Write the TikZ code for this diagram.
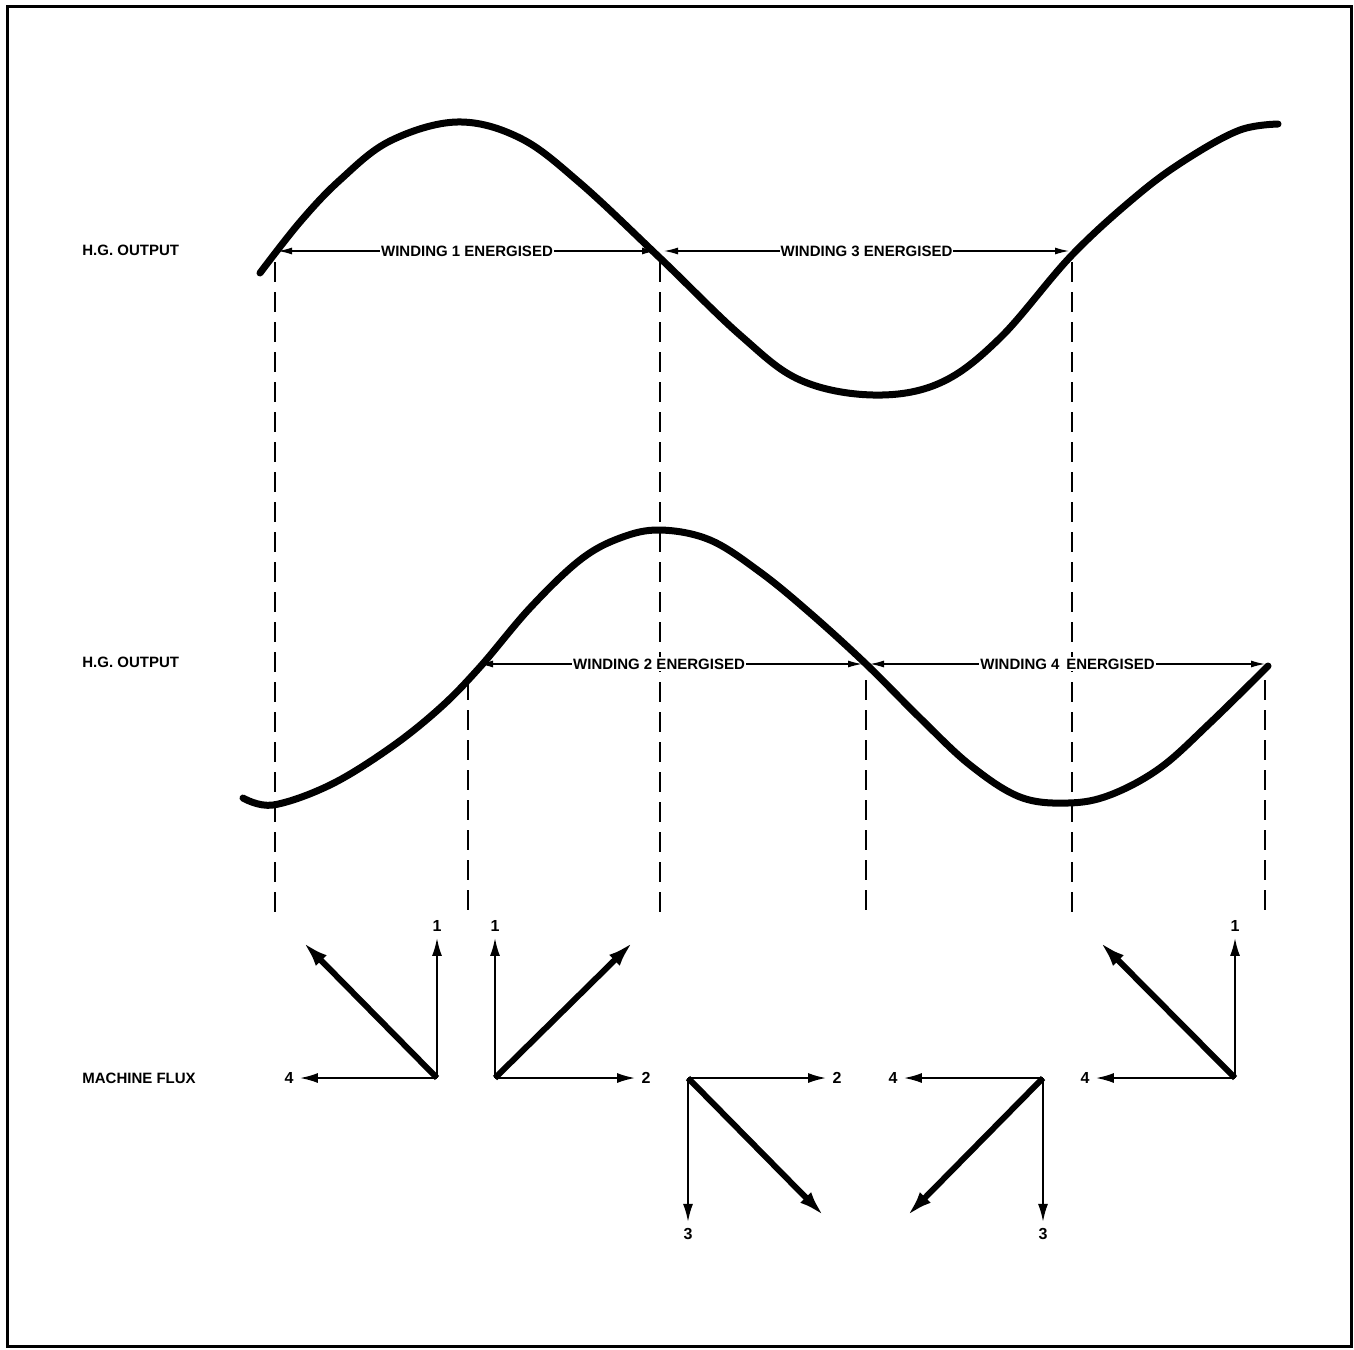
\documentclass[tikz,border=0pt]{standalone}
\usepackage{fontspec}
\setmainfont{Liberation Sans}
\usetikzlibrary{arrows.meta}

\begin{document}
\begin{tikzpicture}[x=0.5pt,y=-0.5pt,
  wave/.style={line width=3.5pt,line cap=round,line join=round},
  guide/.style={line width=1pt,dash pattern=on 10pt off 5pt},
  span/.style={{Latex[length=7pt,width=3.5pt]}-{Latex[length=7pt,width=3.5pt]},line width=0.6pt},
  tag/.style={fill=white,inner xsep=0.5pt,inner ysep=1pt,font=\fontsize{7.5}{9}\selectfont\bfseries},
  lbl/.style={font=\fontsize{7.5}{9}\selectfont\bfseries,anchor=west,inner sep=0pt},
  num/.style={font=\fontsize{8}{9}\selectfont\bfseries,inner sep=3pt},
  comp/.style={-{Latex[length=9pt,width=5pt]},line width=1pt},
  flux/.style={-{Latex[length=13pt,width=7.5pt]},line width=3pt}]
\useasboundingbox (0,0) rectangle (1354,1349);
\draw[line width=1.5pt] (7,6) rectangle (1351,1346);

\node[lbl] (hgA)  at (82,250)  {H.G. OUTPUT};
\node[lbl] (hgB)  at (82,662)  {H.G. OUTPUT};
\node[lbl] (flx)  at (82,1078) {MACHINE FLUX};

\draw[wave] plot[smooth,tension=0.6] coordinates {(260,273) (300,222) (340,180) (390,141) (457,122) (520,138) (580,183) (660,258) (740,335) (800,380) (873,395) (940,383) (1000,338) (1072,255) (1140,193) (1190,157) (1240,130) (1278,124)};
\draw[wave] plot[smooth,tension=0.6] coordinates {(243,798) (273,805) (330,785) (390,748) (440,708) (480,667) (530,608) (580,560) (620,538) (660,530) (710,540) (760,572) (810,613) (866,664) (920,718) (970,765) (1020,797) (1068,803) (1110,795) (1160,768) (1210,723) (1268,666)};

\foreach \x in {275,660,1072}
  \draw[guide] (\x,262) -- (\x,915);
\foreach \x in {468,866,1265}
  \draw[guide] (\x,680) -- (\x,915);

\coordinate (w1a) at (278,251);
\coordinate (w1b) at (656,251);
\coordinate (w3a) at (664,251);
\coordinate (w3b) at (1069,251);
\coordinate (w2a) at (479,664);
\coordinate (w2b) at (862,664);
\coordinate (w4a) at (870,664);
\coordinate (w4b) at (1265,664);
\draw[span] (w1a) -- node[tag] (t1) {WINDING 1 ENERGISED} (w1b);
\draw[span] (w3a) -- node[tag] (t3) {WINDING 3 ENERGISED} (w3b);
\draw[span] (w2a) -- node[tag,pos=0.47] (t2) {WINDING 2 ENERGISED} (w2b);
\draw[span] (w4a) -- node[tag] (t4) {WINDING 4\, ENERGISED} (w4b);

\coordinate (oA) at (437,1078);
\node[num] (a1) at (437,926)  {1};
\node[num] (a4) at (289,1078) {4};
\coordinate (ta) at (303,942);
\draw[comp] (oA) -- (a1);
\draw[comp] (oA) -- (a4);
\draw[flux] (oA) -- (ta);

\coordinate (oB) at (495,1078);
\node[num] (b1) at (495,926)  {1};
\node[num] (b2) at (646,1078) {2};
\coordinate (tb) at (633,942);
\draw[comp] (oB) -- (b1);
\draw[comp] (oB) -- (b2);
\draw[flux] (oB) -- (tb);

\coordinate (oC) at (688,1078);
\node[num] (c2) at (837,1078) {2};
\node[num] (c3) at (688,1234) {3};
\coordinate (tc) at (824,1216);
\draw[comp] (oC) -- (c2);
\draw[comp] (oC) -- (c3);
\draw[flux] (oC) -- (tc);

\coordinate (oD) at (1043,1078);
\node[num] (d4) at (893,1078)  {4};
\node[num] (d3) at (1043,1234) {3};
\coordinate (td) at (907,1216);
\draw[comp] (oD) -- (d4);
\draw[comp] (oD) -- (d3);
\draw[flux] (oD) -- (td);

\coordinate (oE) at (1235,1078);
\node[num] (e1) at (1235,926)  {1};
\node[num] (e4) at (1085,1078) {4};
\coordinate (te) at (1100,942);
\draw[comp] (oE) -- (e1);
\draw[comp] (oE) -- (e4);
\draw[flux] (oE) -- (te);
\end{tikzpicture}
\end{document}
